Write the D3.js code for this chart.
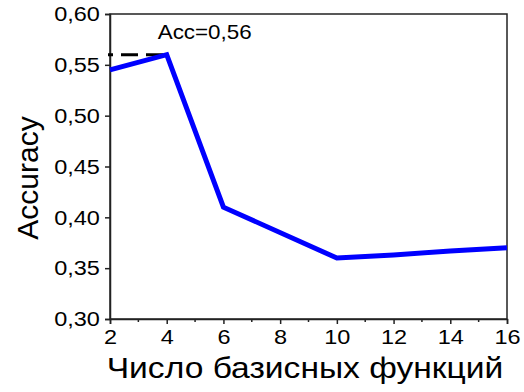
<!DOCTYPE html>
<html>
<head>
<meta charset="utf-8">
<script src="https://cdn.jsdelivr.net/npm/d3@7"></script>
<style>
  body { margin: 0; background: #fff; }
  text { font-family: Arial, "Liberation Sans", sans-serif; fill: #000; }
</style>
</head>
<body>
<div id="chart"></div>
<script>
// data
const basisCount = [2, 4, 6, 10, 12, 14, 16];
const accuracy = [0.545, 0.56, 0.41, 0.36, 0.363, 0.367, 0.37];
const yTicks = [0.30, 0.35, 0.40, 0.45, 0.50, 0.55, 0.60];
const xTicks = [2, 4, 6, 8, 10, 12, 14, 16];
const xMinor = [3, 5, 7, 9, 11, 13, 15];
const bestX = 4;
const bestAcc = 0.56;

const width = 524;
const height = 392;
const margin = {top: 14, right: 17, bottom: 73, left: 110};
const stretch = 1.12; // glyphs in the source are a bit wider than tall

const svg = d3.select("#chart").append("svg")
    .attr("width", width)
    .attr("height", height);

const x = d3.scaleLinear()
    .domain([2, 16])
    .range([margin.left, width - margin.right]);

const y = d3.scaleLinear()
    .domain([0.30, 0.60])
    .range([height - margin.bottom, margin.top]);

const fmt = d => d3.format(".2f")(d).replace(".", ",");

// frame
svg.append("rect")
    .attr("x", x(2))
    .attr("y", y(0.60))
    .attr("width", x(16) - x(2))
    .attr("height", y(0.30) - y(0.60))
    .attr("fill", "none")
    .attr("stroke", "#222")
    .attr("stroke-width", 1.5);

// y axis
const yAxis = d3.axisLeft(y)
    .tickValues(yTicks)
    .tickSize(5)
    .tickPadding(4)
    .tickFormat(fmt);

const gy = svg.append("g")
    .attr("transform", `translate(${margin.left},0)`)
    .call(yAxis);
gy.select(".domain").attr("stroke", "#222").attr("stroke-width", 1.5);
gy.selectAll(".tick line").attr("stroke", "#222").attr("stroke-width", 1.5);
gy.selectAll(".tick text")
    .style("font-size", "21px")
    .attr("fill", "#000")
    .attr("transform", `scale(${stretch},1)`);

// x axis
const xAxis = d3.axisBottom(x)
    .tickValues(xTicks)
    .tickSize(5)
    .tickPadding(5)
    .tickFormat(d3.format("d"));

const gx = svg.append("g")
    .attr("transform", `translate(0,${height - margin.bottom})`)
    .call(xAxis);
gx.select(".domain").attr("stroke", "#222").attr("stroke-width", 1.5);
gx.selectAll(".tick line").attr("stroke", "#222").attr("stroke-width", 1.5);
gx.selectAll(".tick text")
    .style("font-size", "21px")
    .attr("fill", "#000")
    .attr("transform", `scale(${stretch},1)`);

// minor x ticks
gx.selectAll(".minor")
    .data(xMinor)
    .enter()
    .append("line")
    .attr("class", "minor")
    .attr("x1", d => x(d))
    .attr("x2", d => x(d))
    .attr("y1", 0)
    .attr("y2", 3)
    .attr("stroke", "#222")
    .attr("stroke-width", 1.5);

// dashed level of best accuracy
svg.append("line")
    .attr("x1", x(2) - 2)
    .attr("x2", x(bestX))
    .attr("y1", y(bestAcc))
    .attr("y2", y(bestAcc))
    .attr("stroke", "#000")
    .attr("stroke-width", 3)
    .attr("stroke-dasharray", "17,8")
    .attr("stroke-dashoffset", 12);

// line
const line = d3.line()
    .x((d, i) => x(basisCount[i]))
    .y(d => y(d));

svg.append("path")
    .datum(accuracy)
    .attr("d", line)
    .attr("fill", "none")
    .attr("stroke", "#0000ff")
    .attr("stroke-width", 5)
    .attr("stroke-linejoin", "miter");

// annotation
svg.append("text")
    .attr("transform", `translate(${x(bestX) - 9},39) scale(${stretch},1)`)
    .style("font-size", "20px")
    .text("Acc=" + fmt(bestAcc));

// axis titles
svg.append("text")
    .attr("transform", `translate(305,378) scale(${stretch},1)`)
    .attr("text-anchor", "middle")
    .style("font-size", "30px")
    .text("Число базисных функций");

svg.append("text")
    .attr("transform", "translate(38,178) rotate(-90)")
    .attr("text-anchor", "middle")
    .style("font-size", "30px")
    .text("Accuracy");
</script>
</body>
</html>
